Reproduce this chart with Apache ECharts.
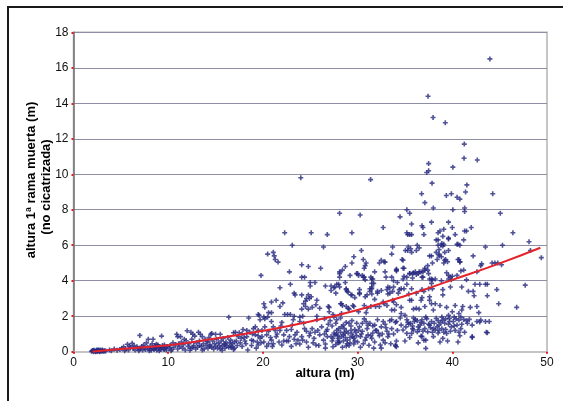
<!DOCTYPE html>
<html>
<head>
<meta charset="utf-8">
<script src="https://cdn.jsdelivr.net/npm/echarts@6/dist/echarts.min.js"></script>
<style>
html,body{margin:0;padding:0;background:#fff;}
#chart{width:563px;height:401px;}
</style>
</head>
<body>
<div id="chart"></div>
<script>
// [altura (m), altura 1ª rama muerta (m)], by height range
const tramo0a10 = [
[1.9,0.02],[2.0,0.05],[2.1,0.0],[2.2,0.04],[2.3,0.02],[2.4,0.06],[2.5,0.01],[2.6,0.04],[2.7,0.07],[2.8,0.02],[2.9,0.05],[3.0,0.03],[3.1,0.06],[3.2,0.02],[3.3,0.05],[2.15,0.08],[2.45,0.1],[2.75,0.0],[3.05,0.09],[2.35,0.0],[2.65,0.1],[2.05,0.07],[3.4,0.04],[2.55,0.08],[2.85,0.09],
[3.8,0.1],[4.3,0.15],[4.0,0.05],[4.6,0.08],[4.9,0.12],[5.1,0.2],[5.3,0.28],[5.5,0.15],[5.7,0.42],[5.8,0.1],[6.0,0.25],[6.2,0.47],[6.3,0.18],[6.4,0.34],[6.5,0.1],[6.7,0.28],[6.8,0.2],[7.0,0.92],[7.0,0.15],[7.2,0.3],[7.3,0.1],[7.5,0.22],[7.6,0.12],[7.7,0.5],[7.8,0.25],[7.9,0.7],[8.0,0.15],[8.1,0.3],[8.2,0.08],[8.4,0.7],[8.4,0.2],[8.5,0.12],[8.6,0.35],[8.7,0.25],[8.8,0.1],[8.9,0.38],[9.0,0.2],[9.1,0.3],[9.2,0.12],[9.3,0.88],[9.3,0.22],[9.4,0.35],[9.5,0.15],[9.6,0.38],[9.7,0.25],[9.8,0.1],[9.9,0.3],[8.3,0.45],[7.4,0.38],[6.9,0.05],[5.9,0.32],[9.05,0.05],[8.75,0.42],[8.0,0.05],[8.6,0.18],[9.6,0.12],[7.1,0.2],[5.4,0.05]
];
const tramo10a20 = [
[10.1,0.2],[10.2,0.35],[10.4,0.12],[10.5,0.5],[10.6,0.25],[10.8,0.4],[10.9,0.98],[11.0,0.85],[11.0,0.15],[11.2,0.3],[11.3,0.85],[11.4,0.55],[11.5,0.2],[11.6,0.4],[11.8,0.1],[11.9,0.62],[12.0,1.18],[12.1,0.3],[12.2,0.45],[12.4,1.1],[12.4,0.2],[12.5,0.7],[12.6,0.98],[12.7,0.35],[12.8,0.88],[12.9,0.15],[13.0,0.5],[13.1,0.25],[13.2,1.1],[13.3,0.6],[13.4,0.98],[13.5,0.3],[13.6,0.85],[13.7,0.45],[13.8,0.15],[13.9,0.7],[14.0,0.35],[14.1,0.55],[14.2,0.2],[14.3,0.8],[14.4,0.4],[14.5,0.98],[14.6,1.03],[14.6,0.25],[14.7,0.6],[14.8,0.15],[14.9,0.45],[15.0,0.98],[15.0,0.3],[15.1,0.7],[15.2,0.2],[15.3,0.5],[15.4,0.35],[15.5,0.98],[15.5,0.15],[15.6,0.6],[15.7,0.3],[15.8,0.75],[15.9,0.45],[16.0,0.2],[16.1,0.55],[16.2,0.35],[16.3,0.8],[16.4,1.94],[16.4,0.25],[16.5,0.5],[16.6,0.65],[16.7,0.3],[16.8,0.45],[16.9,1.07],[17.0,0.2],[17.1,1.1],[17.2,0.6],[17.3,0.35],[17.5,1.07],[17.4,0.85],[10.3,0.05],[12.3,0.08],[13.6,0.1],[15.7,0.08],[16.9,0.12],[11.7,0.7],[14.2,0.6],[13.3,0.35],
[17.6,0.5],[17.8,0.3],[18.0,0.8],[18.2,0.45],[18.4,0.1],[18.6,1.1],[18.8,0.35],[19.0,0.6],[19.2,1.4],[19.3,0.2],[19.5,0.9],[19.8,0.5],[19.9,1.2],
[17.9,1.25],[18.3,1.2],[19.0,1.3],[19.5,1.2],[17.8,1.0],[18.3,0.85],[18.8,0.65],[19.2,0.95],[19.7,0.75],[18.1,0.6],[19.5,0.38],[18.5,1.9],[19.7,1.8],[19.6,2.05],[19.5,2.1],[19.8,4.3],
[16.0,0.4],[16.6,0.25],[17.0,0.55],[17.7,0.75],[18.9,1.0],[19.4,0.55],[19.9,0.85],[14.4,0.3],[12.6,0.25],[11.1,0.45]
];
const tramo20a30 = [
[24.0,9.8],[22.3,6.7],[25.1,6.7],[26.8,6.6],[29.4,6.7],[23.1,6.0],[26.4,5.9],[20.5,5.5],[21.1,5.6],[21.2,5.4],[21.3,5.2],[21.6,5.05],[22.8,4.5],[24.1,4.9],[24.8,4.8],[24.1,4.2],[24.4,4.2],[26.1,4.7],[28.1,7.8],[21.8,3.6],[22.9,3.8],[25.0,3.9],[25.5,3.9],[26.6,3.7],[27.2,3.7],[27.5,3.6],[24.1,3.2],[24.6,3.0],[24.9,3.0],[25.1,3.1],[24.5,2.85],[24.3,2.7],[20.1,2.7],[20.2,2.5],[20.9,2.8],[21.4,2.9],[22.1,2.75],[23.3,3.3],[23.4,3.2],[25.6,2.65],[26.0,2.45],[27.0,2.5],[20.6,2.2],[20.9,2.2],[22.3,2.1],[22.6,2.1],[22.9,2.1],[24.1,2.4],[24.5,2.55],[24.8,2.4],[24.2,2.0],[20.1,1.95],[23.9,1.95],[23.3,2.0],[25.7,2.0],[27.5,1.95],[27.8,1.8],
[28.1,4.5],[28.1,4.2],[29.2,4.3],[29.9,4.4],[25.0,3.7],[27.8,3.8],[28.1,3.65],[28.7,3.9],[27.2,3.45],[27.7,3.3],[28.8,3.5],[29.0,3.35],[29.4,3.2],[24.8,3.2],[21.8,2.55],[26.9,2.55],[25.2,2.5],[25.7,2.9],[28.2,2.7],[28.4,2.6],[28.8,2.55],[29.1,2.4],[29.5,2.6],[28.3,2.15],[27.0,2.25],[27.4,2.1],[20.5,1.95],
[20.2,1.85],[20.9,1.7],[22.0,1.65],[23.2,1.8],[23.9,1.7],[24.3,1.6],[25.7,1.8],[26.5,1.85],[27.1,1.75],[27.7,1.6],[28.2,1.9],[28.8,1.65],[29.4,1.75],[29.9,1.6],
[20.2,1.4],[20.6,1.15],[21.1,1.4],[21.8,1.2],[22.5,1.2],[23.0,1.25],[23.6,1.1],[24.6,1.15],[25.2,1.3],[25.8,1.2],[26.2,1.4],[26.8,1.25],[27.3,1.45],[27.8,1.2],[28.3,1.4],[28.8,1.15],[29.3,1.45],[29.7,1.25],
[20.1,0.55],[20.4,0.95],[20.9,0.65],[21.4,0.85],[21.7,0.55],[22.2,0.6],[22.5,0.6],[22.7,0.6],[23.4,0.95],[23.7,0.65],[24.1,0.85],[24.6,0.55],[25.0,1.05],[25.4,0.75],[26.0,0.95],[26.4,0.65],[26.8,0.85],[27.3,0.6],[27.6,0.95],[28.0,0.75],[28.1,0.55],[28.5,0.95],[28.9,0.65],[29.4,1.0],[29.6,0.75],
[20.4,0.3],[21.1,0.45],[22.0,0.38],[23.0,0.3],[23.9,0.43],[24.8,0.25],[25.6,0.38],[26.6,0.43],[27.4,0.28],[28.0,0.5],[28.8,0.32],[29.6,0.43],
[29.4,5.0],[29.6,5.35],[28.4,4.6],[28.7,4.8],[28.1,4.4],[28.0,3.8],[27.6,3.65],[28.8,3.55],[28.9,3.4],[29.3,3.2],[29.7,3.05],[28.3,2.7],[29.0,2.45],[29.6,2.55],
[27.9,0.9],[28.2,1.1],[28.5,0.6],[28.7,0.8],[29.0,1.05],[29.2,0.5],[29.5,0.85],[29.8,1.1],[27.7,0.4],[28.4,0.25],[29.1,0.35],[29.9,0.9],[28.6,1.3],[27.5,1.05],[26.9,1.55],[26.6,0.2],[25.3,0.5],[24.2,0.65],[23.5,0.45],[22.8,0.85],[22.2,0.95],[21.5,1.0],[21.0,0.3],[20.8,0.8],[26.7,1.15],[27.2,0.85],[25.9,0.35],[24.9,0.9],[23.1,1.5],[21.9,1.45],
[27.8,1.0],[28.0,1.3],[28.3,0.85],[28.6,1.05],[28.9,0.45],[29.2,0.8],[29.3,1.2],[29.7,0.6],[27.9,0.6],[28.5,1.5],[29.1,1.6],[27.4,0.75],[26.5,1.0],[25.5,1.1],[24.4,1.3],[23.3,0.7],[21.3,1.2],[20.6,0.45]
];
const tramo30a40 = [
[37.44,14.4],[37.97,13.2],[39.26,12.9],[37.5,10.6],[37.3,10.1],[37.5,10.2],[31.37,9.7],[37.86,9.5],[36.76,8.9],[39.9,8.9],[39.37,8.8],[37.1,8.4],[38.0,8.1],[35.2,8.0],[35.5,7.8],[30.27,7.7],[34.48,7.6],[37.8,7.3],[39.6,7.3],[36.8,7.1],[36.9,7.0],[32.7,7.0],[35.7,7.2],[35.2,6.7],[35.5,6.6],[37.0,6.6],[38.7,6.8],[39.1,6.9],[38.5,6.7],[39.6,6.35],[38.5,6.3],[33.7,5.9],[38.5,6.0],[38.8,6.0],[39.1,6.05],[36.3,6.0],[36.5,5.85],[30.4,5.7],[35.05,5.7],[35.35,5.9],[38.3,5.6],[38.6,5.5],[38.85,5.35],[37.6,5.4],[39.3,5.2],[39.1,5.0],[39.5,5.07],[35.7,5.6],[33.6,5.5],[30.8,4.85],[30.7,4.7],[32.3,5.0],[32.8,5.07],[34.8,5.15],[37.1,4.7],[37.4,4.85],[36.5,4.5],[36.7,4.5],[35.8,4.4],[35.5,4.4],[34.9,4.25],[30.5,4.3],[31.5,4.1],[31.6,4.1],[33.8,4.0],[37.8,4.1],[38.2,4.1],[39.6,4.1],[38.85,4.0],
[30.1,4.3],[30.7,4.2],[31.8,4.5],[32.9,4.5],[34.1,4.55],[33.0,4.2],[30.2,3.5],[31.5,3.65],[31.7,3.85],[31.5,3.55],[31.3,3.4],[33.1,3.5],[33.4,3.6],[33.8,3.65],[32.1,3.3],[30.2,3.3],[31.0,3.2],[30.8,4.05],[30.1,2.25],[30.7,2.6],[30.9,2.2],[31.4,2.55],[32.3,2.55],[32.7,2.8],[33.1,2.6],[34.1,2.65],[33.6,2.35],
[30.7,1.85],[31.3,1.6],[32.1,1.8],[32.7,1.7],[33.4,1.75],[34.0,1.65],[30.2,1.4],[30.5,1.15],[31.0,1.3],[31.6,1.45],[32.0,1.2],[32.5,1.4],[33.1,1.15],[33.6,1.3],[34.2,1.2],[30.0,0.55],[30.3,0.85],[30.8,0.65],[31.1,0.95],[31.5,0.75],[31.8,0.55],[32.3,0.9],[32.7,0.65],[33.2,0.85],[33.8,1.0],[34.1,0.6],[30.3,0.25],[31.2,0.36],[32.4,0.38],[32.5,0.2],[34.0,0.32],
[30.6,5.2],[30.9,5.0],[30.0,4.4],[30.6,4.2],[31.4,4.2],[31.5,3.85],[32.5,5.15],[32.9,5.05],[34.1,4.65],[34.8,4.7],[36.1,4.5],[35.2,4.2],[35.8,4.15],[36.4,4.4],[36.8,4.2],[37.1,4.6],[30.2,3.25],[30.8,3.1],[31.3,3.55],[31.5,3.25],[31.8,2.95],[32.1,3.4],[32.5,3.45],[33.2,3.25],[33.2,3.65],[33.7,2.9],[34.3,3.3],[34.6,3.55],[35.2,3.8],[35.4,3.25],[35.7,2.9],[36.2,3.3],[36.7,2.9],[37.6,3.1],[37.9,3.55],[31.0,2.45],[31.9,2.55],[32.8,2.7],[33.9,2.35],[34.6,2.15],[35.9,2.4],[37.1,2.55],[37.8,2.7],
[35.3,6.6],[35.7,6.6],[38.3,6.3],[39.0,6.5],[39.6,6.4],[38.9,6.1],[35.3,5.7],[35.6,5.8],[36.2,5.7],[38.6,5.75],[39.0,5.95],[39.2,5.6],[39.6,5.7],[38.6,5.4],[39.2,5.15],[37.8,5.4],[37.9,5.0],[38.4,5.2],[34.7,5.2],[34.1,4.6],[34.9,4.7],[35.5,4.4],[35.9,4.45],[36.2,4.35],[36.9,4.5],[37.4,4.6],[37.5,4.4],[36.9,4.2],[37.6,4.1],[37.9,4.05],[39.4,4.45],[39.6,4.3],[39.8,4.2],[39.9,4.05],[34.8,4.1],[33.6,4.2],[34.2,3.9],
[33.4,3.3],[33.7,3.4],[34.4,3.5],[34.9,3.55],[35.7,3.55],[36.8,3.5],[37.0,3.4],[37.5,3.55],[37.8,3.85],[39.0,3.5],[39.8,3.65],[39.0,3.2],[36.8,3.05],[37.6,2.9],[33.8,2.8],[34.6,2.5],[35.5,2.9],[36.2,2.45],[38.2,2.7],[38.7,2.6],[39.4,2.5],[40.0,2.25],[39.6,2.05],[36.5,2.4],[35.0,2.05],[38.0,2.35],
[33.6,1.8],[34.1,1.7],[34.5,1.9],[34.6,1.5],[35.1,1.4],[35.2,1.8],[35.6,1.6],[35.9,1.22],[36.1,1.82],[36.4,1.4],[36.8,1.8],[37.0,1.6],[37.1,1.3],[37.4,1.12],[37.6,1.5],[37.8,1.7],[38.2,1.22],[38.3,1.88],[38.6,1.5],[38.9,1.3],[39.0,1.78],[39.2,1.6],[39.4,1.03],[39.7,1.88],[39.9,1.4],[39.0,0.75],[38.0,0.85],[37.0,0.65],[37.2,0.65],[36.7,0.88],[35.7,1.03],[35.2,1.03],[34.8,1.22],[34.0,0.38],[34.1,0.28],[37.2,0.19],[36.8,0.85],[36.3,1.12],
[35.4,1.55],[35.8,1.45],[36.6,1.5],[37.5,1.55],[38.0,1.3],[38.4,1.4],[38.8,1.65],[39.3,1.25],[39.6,1.55],[36.0,1.7],[37.3,1.85],[38.5,1.05],[39.8,1.15],[36.9,1.15],[35.5,0.8],[38.7,0.55],[39.5,0.6],[36.4,0.5],[35.0,0.6],[30.9,1.7],[31.8,1.5],[32.9,1.55],[33.3,1.0],[32.2,1.05],[30.4,1.0],[31.4,0.9],[33.5,0.45],[31.7,0.2],[30.6,0.45],[32.9,0.5],
[35.3,1.65],[35.9,1.9],[36.3,1.75],[36.7,1.65],[37.2,1.95],[37.7,1.35],[38.1,1.6],[38.5,1.75],[38.9,1.95],[39.3,1.85],[39.7,1.7],[36.5,1.25],[37.9,1.1],[38.6,1.2],[39.1,1.1],[35.8,1.3],[30.5,1.6],[31.1,1.5],[31.9,1.2],[32.6,1.0],[33.0,1.35],[30.1,1.2],[30.9,0.8],[31.6,1.05]
];
const tramo40a50 = [
[43.97,16.5],[41.27,11.7],[41.24,10.9],[42.64,10.8],[40.06,10.4],[41.54,9.4],[44.27,8.9],[40.5,8.7],[40.8,8.6],[41.4,9.0],[41.3,8.1],[41.3,7.9],[40.06,8.0],[45.07,7.8],[42.0,7.0],[40.0,7.0],[40.3,6.6],[46.4,6.7],[41.3,6.8],[41.2,6.3],[48.1,6.2],[43.5,5.9],[40.6,6.05],[45.3,6.0],[48.25,5.7],[49.4,5.3],[40.7,5.2],[40.8,5.07],[42.2,5.4],[44.5,5.0],[44.8,5.0],[45.2,4.9],[43.0,4.85],[41.2,4.6],[42.6,4.5],[41.5,4.05],[40.0,4.25],[41.5,6.8],[40.5,6.05],[40.8,6.0],[40.6,5.2],[40.8,5.05],[43.1,4.95],[44.2,5.0],[40.9,4.55],[40.5,4.3],[41.0,3.65],[42.4,3.8],[42.9,3.8],[43.5,3.8],[43.7,3.8],[41.7,3.4],[42.2,3.4],[44.7,3.5],[44.9,2.7],[43.7,3.15],[40.3,2.6],[41.0,2.35],[41.9,2.5],[42.6,2.55],[40.7,2.15],[42.3,3.15],[42.8,2.2],[41.1,2.55],[47.7,3.75],[46.8,2.5],
[40.1,1.7],[40.5,1.5],[40.7,1.78],[40.9,1.3],[41.2,1.82],[41.5,1.75],[41.8,1.82],[42.1,1.5],[42.6,1.7],[43.0,1.78],[43.5,1.7],[43.7,1.07],[42.1,0.85],[40.8,0.9],[43.9,1.7],[43.6,1.1],[41.3,1.1],[42.1,0.8],[42.9,1.67],[40.3,1.2],[40.6,0.55],[41.0,1.55],[40.2,1.95],
[40.4,1.85],[40.9,1.95],[41.6,1.6],[40.2,1.45],[40.7,1.1]
];
// red trend line
const tendenciaX = [2, 5, 10, 15, 20, 25, 30, 35, 40, 45, 49.3];
const tendenciaY = [0.0, 0.15, 0.36, 0.75, 1.18, 1.7, 2.35, 3.14, 4.05, 4.98, 5.86];
const xTicks = [0, 10, 20, 30, 40, 50];
const yTicks = [0, 2, 4, 6, 8, 10, 12, 14, 16, 18];

const puntos = [].concat(tramo0a10, tramo10a20, tramo20a30, tramo30a40, tramo40a50);
const tendencia = tendenciaX.map((x, i) => [x, tendenciaY[i]]);
const FONT = '"Liberation Sans", Arial, sans-serif';

const chart = echarts.init(document.getElementById('chart'), null, {renderer: 'canvas'});
chart.setOption({
  animation: false,
  backgroundColor: '#ffffff',
  grid: {left: 73.5, right: 16, top: 32.3, bottom: 49.3, show: true, borderColor: '#b4b4b4', borderWidth: 1.5, backgroundColor: 'transparent'},
  xAxis: {
    type: 'value', min: xTicks[0], max: xTicks[xTicks.length - 1], interval: 10,
    axisLine: {show: true, onZero: false, lineStyle: {color: '#c4c4c4', width: 2}},
    axisTick: {show: true, length: 2, lineStyle: {color: '#e02020', width: 2}},
    axisLabel: {fontFamily: FONT, fontSize: 12, color: '#111', margin: 5},
    splitLine: {show: false}
  },
  yAxis: {
    type: 'value', min: yTicks[0], max: yTicks[yTicks.length - 1], interval: 2,
    axisLine: {show: true, onZero: false, lineStyle: {color: '#707070', width: 1.5}},
    axisTick: {show: true, length: 2, lineStyle: {color: '#e02020', width: 2}},
    axisLabel: {fontFamily: FONT, fontSize: 12, color: '#111', margin: 5},
    splitLine: {show: true, lineStyle: {color: '#8e8ea4', width: 1}}
  },
  graphic: [
    {type: 'rect', shape: {x: 8, y: 7, width: 620, height: 460}, style: {fill: 'none', stroke: '#1a1a1a', lineWidth: 2}, silent: true},
    {type: 'text', x: 325, y: 373, style: {text: 'altura (m)', font: 'bold 13px ' + FONT, fill: '#000', textAlign: 'center', textVerticalAlign: 'middle'}},
    {type: 'text', x: 31.6, y: 180, rotation: Math.PI / 2, style: {text: 'altura 1ª rama muerta (m)', font: 'bold 13px ' + FONT, fill: '#000', textAlign: 'center', textVerticalAlign: 'middle'}},
    {type: 'text', x: 46, y: 187, rotation: Math.PI / 2, style: {text: '(no cicatrizada)', font: 'bold 13px ' + FONT, fill: '#000', textAlign: 'center', textVerticalAlign: 'middle'}}
  ],
  series: [
    {
      type: 'scatter', data: puntos,
      symbol: 'path://M3.4,0H6.6V3.4H10V6.6H6.6V10H3.4V6.6H0V3.4H3.4Z', symbolSize: 5,
      itemStyle: {color: '#25287e'}, z: 3
    },
    {
      type: 'line', data: tendencia, smooth: true, showSymbol: false,
      lineStyle: {color: '#e5232b', width: 2}, z: 4
    }
  ]
});
</script>
</body>
</html>
